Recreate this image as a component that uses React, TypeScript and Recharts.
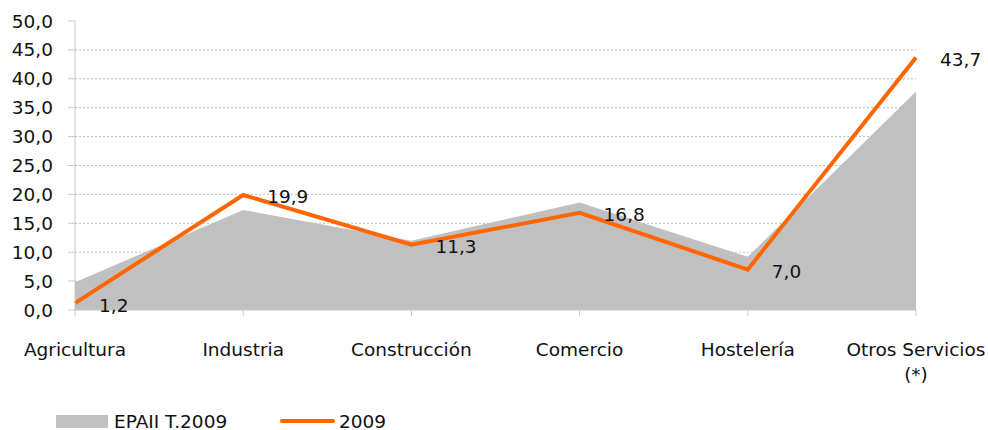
import { Area, CartesianGrid, ComposedChart, LabelList, Line, XAxis, YAxis } from 'recharts'

const categories = ['Agricultura', 'Industria', 'Construcción', 'Comercio', 'Hostelería', 'Otros Servicios\n(*)']
const epaValues = [4.8, 17.3, 12.0, 18.6, 9.2, 37.8]
const values2009 = [1.2, 19.9, 11.3, 16.8, 7.0, 43.7]
const yTicks = [0, 5, 10, 15, 20, 25, 30, 35, 40, 45, 50]

const data = categories.map((name, i) => ({ name, epa: epaValues[i], y2009: values2009[i] }))

const FONT = '"DejaVu Sans", Verdana, sans-serif'
const FS = 18.5
const fmt = (v: number) => v.toFixed(1).replace('.', ',')

function XTick({ x, y, payload }: any) {
  const lines = String(payload.value).split('\n')
  return (
    <text x={x} y={y} textAnchor="middle" fontFamily={FONT} fontSize={FS} fill="#111">
      {lines.map((l, i) => (
        <tspan key={i} x={x} dy={i === 0 ? 38 : 25}>
          {l}
        </tspan>
      ))}
    </text>
  )
}

function PointLabel({ x, y, value }: any) {
  return (
    <text x={x + 24} y={y + 2} dominantBaseline="central" fontFamily={FONT} fontSize={FS} fill="#111">
      {fmt(value)}
    </text>
  )
}

export default function App() {
  return (
    <div style={{ position: 'absolute', left: 0, top: 0, width: 988, height: 430, background: '#fff' }}>
      <ComposedChart width={988} height={430} data={data} margin={{ top: 21, right: 72, bottom: 60, left: 15 }}>
        <CartesianGrid
          vertical={false}
          horizontalValues={yTicks.filter((t) => t > 0 && t < 50)}
          stroke="#bdbdbd"
          strokeDasharray="2 2"
        />
        <XAxis
          dataKey="name"
          scale="point"
          padding={{ left: 0, right: 0 }}
          height={60}
          interval={0}
          axisLine={{ stroke: '#c8c8c8' }}
          tickLine={{ stroke: '#c8c8c8' }}
          tickSize={6}
          tick={<XTick />}
        />
        <YAxis
          domain={[0, 50]}
          ticks={yTicks}
          width={60}
          interval={0}
          axisLine={{ stroke: '#c8c8c8' }}
          tickLine={{ stroke: '#c8c8c8' }}
          tickSize={7}
          tickMargin={15}
          tickFormatter={fmt}
          tick={{ fontFamily: FONT, fontSize: FS, fill: '#111' }}
        />
        <Area
          dataKey="epa"
          type="linear"
          fill="#c0c0c0"
          fillOpacity={1}
          stroke="none"
          isAnimationActive={false}
        />
        <Line
          dataKey="y2009"
          type="linear"
          stroke="#ff6600"
          strokeWidth={4}
          dot={false}
          activeDot={false}
          isAnimationActive={false}
        >
          <LabelList dataKey="y2009" content={<PointLabel />} />
        </Line>
      </ComposedChart>
      <div
        style={{
          position: 'absolute',
          left: 56,
          top: 409,
          display: 'flex',
          alignItems: 'center',
          fontFamily: FONT,
          fontSize: FS,
          color: '#111',
          height: 24,
        }}
      >
        <span style={{ display: 'inline-block', width: 52, height: 13, background: '#c0c0c0', marginRight: 6 }} />
        <span style={{ width: 166 }}>EPAII T.2009</span>
        <span style={{ display: 'inline-block', width: 55, height: 4, background: '#ff6600', borderRadius: 2, marginRight: 4 }} />
        <span>2009</span>
      </div>
    </div>
  )
}
